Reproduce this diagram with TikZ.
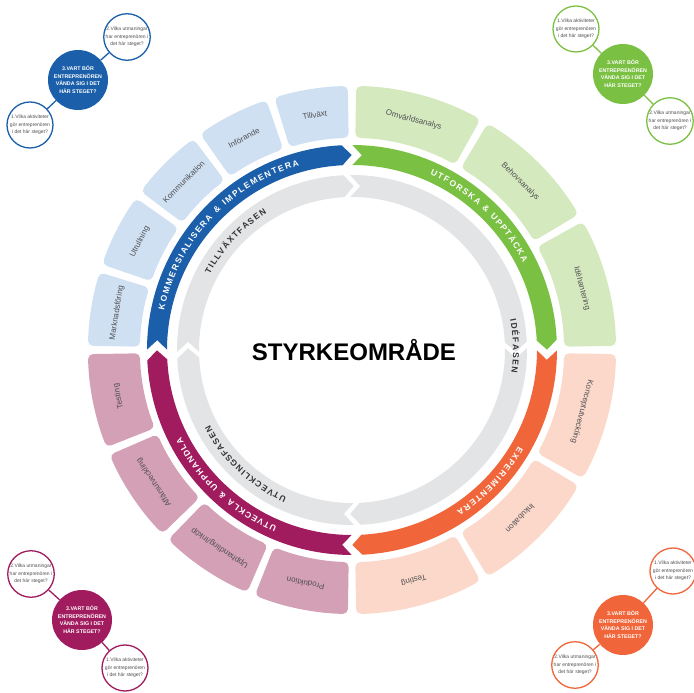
\documentclass[tikz,border=0pt]{standalone}
\usepackage{fontspec}
\setmainfont{Liberation Sans}
\usepackage{tikz}
\usetikzlibrary{positioning, decorations.text, calc}
\definecolor{kblue}{HTML}{1B5FAA}
\definecolor{kbluelt}{HTML}{CFE0F3}
\definecolor{ugreen}{HTML}{7AC143}
\definecolor{ugreenlt}{HTML}{D5E9BF}
\definecolor{eorange}{HTML}{F0663A}
\definecolor{eorangelt}{HTML}{FBD8CA}
\definecolor{umag}{HTML}{A01C5E}
\definecolor{umaglt}{HTML}{D4A0B5}
\definecolor{fasgray}{HTML}{E3E4E6}
\definecolor{fastext}{HTML}{333333}
\definecolor{tiletext}{HTML}{505050}
\tikzstyle{tiletxt}=[%
      font=\fontsize{8}{8}\selectfont, text=tiletext, inner sep=0pt
]
\tikzstyle{bigq}=[%
      circle, minimum size=60pt, inner sep=0pt, align=center, text=white,
      font=\bfseries\fontsize{5.3}{7.5}\selectfont
]
\tikzstyle{smallq}=[%
      circle, draw, line width=1.3pt, fill=white, minimum size=46pt, inner sep=0pt, align=center,
      text=tiletext, font=\fontsize{5}{7.3}\selectfont
]
\tikzstyle{qline}=[line width=1.3pt]
% start, end, inner r, outer r, chevron depth, gap, colour
\newcommand{\bandseg}[7]{%
  \pgfmathsetmacro{\bsa}{#1+#5/2-#6/2}
  \pgfmathsetmacro{\bsn}{#1-#5/2-#6/2}
  \pgfmathsetmacro{\bea}{#2+#5/2+#6/2}
  \pgfmathsetmacro{\bet}{#2-#5/2+#6/2}
  \pgfmathsetmacro{\bmid}{(#3+#4)/2}
  \fill[#7] (\bsa:#4) arc[start angle=\bsa, end angle=\bea, radius=#4] -- (\bet:\bmid) -- (\bea:#3)
    arc[start angle=\bea, end angle=\bsa, radius=#3] -- (\bsn:\bmid) -- cycle;}
\newcommand{\bandfont}{\bfseries\fontsize{8.5}{8.5}\selectfont}

\begin{document}
\begin{tikzpicture}[x=1pt, y=1pt]
  \useasboundingbox (-352,-343) rectangle (342,350);

  % tiles
  \foreach \a/\b/\c/\nm/\lab in {60/90/ugreenlt/omv/Omvärldsanalys, 30/60/ugreenlt/behov/Behovsanalys,
      0/30/ugreenlt/idehant/Idéhantering, 330/360/eorangelt/koncept/Konceptutveckling,
      300/330/eorangelt/inkub/Inkubation, 270/300/eorangelt/testo/Testing,
      247.5/270/umaglt/prod/Produktion, 225/247.5/umaglt/upph/{Upphandling/Inköp},
      202.5/225/umaglt/affar/Affärsutveckling, 180/202.5/umaglt/testm/Testing,
      90/108/kbluelt/tillv/Tillväxt, 108/126/kbluelt/inf/Införande, 126/144/kbluelt/komm/Kommunikation,
      144/162/kbluelt/utrull/Utrullning, 162/180/kbluelt/mark/Marknadsföring}{
    \fill[\c, rounded corners=5pt] (\a+0.9:212) arc[start angle=\a+0.9, end angle=\b-0.9, radius=212]
      -- (\b-0.9:264) arc[start angle=\b-0.9, end angle=\a+0.9, radius=264] -- cycle;
    \node[tiletxt, rotate={(\a+\b)/2-90}] (\nm) at ({(\a+\b)/2}:238) {\lab};
  }

  % coloured bands
  \bandseg{180}{90}{185}{205}{2.8}{3}{kblue}
  \bandseg{90}{0}{185}{205}{2.8}{3}{ugreen}
  \bandseg{0}{-90}{185}{205}{2.8}{3}{eorange}
  \bandseg{-90}{-180}{185}{205}{2.8}{3}{umag}

  % phase ring
  \bandseg{180}{90}{153}{175}{3.5}{2.2}{fasgray}
  \bandseg{90}{0}{153}{175}{3.5}{2.2}{fasgray}
  \bandseg{0}{-90}{153}{175}{3.5}{2.2}{fasgray}
  \bandseg{-90}{-180}{153}{175}{3.5}{2.2}{fasgray}

  \path[decorate, decoration={text along path, text align={fit to path}, text color=white,
      text={|\bandfont|KOMMERSIALISERA {\&} IMPLEMENTERA}}]
    (168:192) arc[start angle=168, end angle=106, radius=192];
  \path[decorate, decoration={text along path, text align={fit to path}, text color=white,
      text={|\bandfont|UTFORSKA {\&} UPPTÄCKA}}]
    (66:192) arc[start angle=66, end angle=27, radius=192];
  \path[decorate, decoration={text along path, text align={fit to path}, text color=white,
      text={|\bandfont|EXPERIMENTERA}}]
    (-30:192) arc[start angle=-30, end angle=-57, radius=192];
  \path[decorate, decoration={text along path, text align={fit to path}, text color=white,
      text={|\bandfont|UTVECKLA {\&} UPPHANDLA}}]
    (-113:192) arc[start angle=-113, end angle=-153, radius=192];

  \path[decorate, decoration={text along path, text align={fit to path}, text color=fastext,
      text={|\bandfont|TILLVÄXTFASEN}}]
    (152:161) arc[start angle=152, end angle=122, radius=161];
  \path[decorate, decoration={text along path, text align={fit to path}, text color=fastext,
      text={|\bandfont|IDÉFASEN}}]
    (11:161) arc[start angle=11, end angle=-8, radius=161];
  \path[decorate, decoration={text along path, text align={fit to path}, text color=fastext,
      text={|\bandfont|UTVECKLINGSFASEN}}]
    (-114:161) arc[start angle=-114, end angle=-152, radius=161];

  \node[font=\bfseries\fontsize{24}{24}\selectfont, text=black] (styrke) at (2,0) {STYRKEOMRÅDE};

  % question circles
  \node[bigq, fill=kblue] (bq) at (-274,270) {3.VART BÖR\\ENTREPRENÖREN\\VÄNDA SIG I DET\\HÄR STEGET?};
  \node[smallq, draw=kblue] (bq2) at (-225,313) {2.Vilka utmaningar\\har entreprenören i\\det här steget?};
  \node[smallq, draw=kblue] (bq1) at (-322,225) {1.Vilka aktiviteter\\gör entreprenören\\i det här steget?};
  \draw[qline, kblue] (bq) -- (bq2) (bq) -- (bq1);

  \node[bigq, fill=ugreen] (gq) at (271,276) {3.VART BÖR\\ENTREPRENÖREN\\VÄNDA SIG I DET\\HÄR STEGET?};
  \node[smallq, draw=ugreen] (gq1) at (224,321) {1.Vilka aktiviteter\\gör entreprenören\\i det här steget?};
  \node[smallq, draw=ugreen] (gq2) at (318,229) {2.Vilka utmaningar\\har entreprenören i\\det här steget?};
  \draw[qline, ugreen] (gq) -- (gq1) (gq) -- (gq2);

  \node[bigq, fill=umag] (mq) at (-270,-270) {3.VART BÖR\\ENTREPRENÖREN\\VÄNDA SIG I DET\\HÄR STEGET?};
  \node[smallq, draw=umag] (mq2) at (-321,-224) {2.Vilka utmaningar\\har entreprenören i\\det här steget?};
  \node[smallq, draw=umag] (mq1) at (-227,-318) {1.Vilka aktiviteter\\gör entreprenören\\i det här steget?};
  \draw[qline, umag] (mq) -- (mq2) (mq) -- (mq1);

  \node[bigq, fill=eorange] (oq) at (271,-275) {3.VART BÖR\\ENTREPRENÖREN\\VÄNDA SIG I DET\\HÄR STEGET?};
  \node[smallq, draw=eorange] (oq1) at (321,-221) {1.Vilka aktiviteter\\gör entreprenören\\i det här steget?};
  \node[smallq, draw=eorange] (oq2) at (223,-315) {2.Vilka utmaningar\\har entreprenören i\\det här steget?};
  \draw[qline, eorange] (oq) -- (oq1) (oq) -- (oq2);
\end{tikzpicture}
\end{document}
